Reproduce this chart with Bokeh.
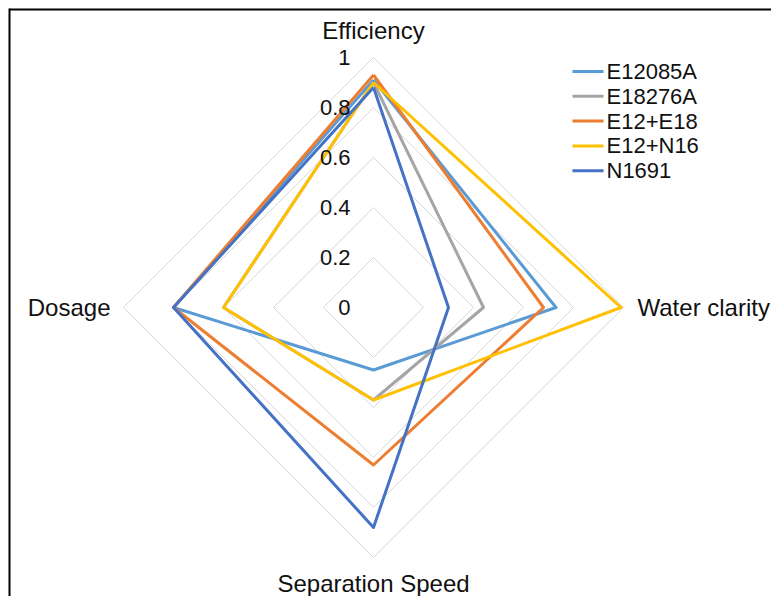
import numpy as np
from bokeh.plotting import figure
from bokeh.models import Range1d
from bokeh.core.properties import value
from bokeh.embed import file_html
from bokeh.resources import INLINE

# ---- data ----
axes_labels = ["Efficiency", "Water clarity", "Separation Speed", "Dosage"]
tick_values = [0, 0.2, 0.4, 0.6, 0.8, 1]
tick_labels = ["0", "0.2", "0.4", "0.6", "0.8", "1"]
series_names = ["E12085A", "E18276A", "E12+E18", "E12+N16", "N1691"]
E12085A = [0.91, 0.73, 0.25, 0.80]
E18276A = [0.90, 0.44, 0.37, 0.60]
E12_E18 = [0.93, 0.68, 0.63, 0.80]
E12_N16 = [0.90, 0.99, 0.37, 0.60]
N1691 = [0.88, 0.30, 0.88, 0.80]
series_values = [E12085A, E18276A, E12_E18, E12_N16, N1691]
colors = ["#5B9BD5", "#A5A5A5", "#ED7D31", "#FFC000", "#4472C4"]

# ---- layout ----
W, H = 771, 596
R = 250.0            # pixels for value 1
CX, CY = 373, 307    # center in figure pixels (from top-left)


def dx(px):  # figure pixel x -> data
    return (px - CX) / R


def dy(py):  # figure pixel y (from top) -> data
    return (CY - py) / R


FONT = value("Liberation Sans")
TXT = "#111111"

p = figure(width=W, height=H, output_backend="svg", toolbar_location=None,
           x_range=Range1d(dx(0), dx(W)), y_range=Range1d(dy(H), dy(0)),
           min_border=0)
p.axis.visible = False
p.grid.visible = False
p.outline_line_color = None
p.background_fill_color = "white"
p.border_fill_color = "white"

angles = np.deg2rad([90, 0, -90, 180])
cosA, sinA = np.cos(angles), np.sin(angles)

# grid rings
for t in tick_values[1:]:
    xs = list(t * cosA) + [t * cosA[0]]
    ys = list(t * sinA) + [t * sinA[0]]
    p.line(xs, ys, line_color="#D9D9D9", line_width=1)

# series
for name, vals, c in zip(series_names, series_values, colors):
    v = np.array(vals)
    xs = list(v * cosA) + [v[0] * cosA[0]]
    ys = list(v * sinA) + [v[0] * sinA[0]]
    p.line(xs, ys, line_color=c, line_width=3, line_join="round")

# tick labels
p.text(x=[dx(CX - 23)] * len(tick_values), y=tick_values, text=tick_labels,
       text_align="right", text_baseline="middle", text_font=FONT,
       text_font_size="22px", text_color=TXT)

# axis labels
lab_x = [0, 1 + 14 / R, 0, -(1 + 13 / R)]
lab_y = [1 + 27 / R, 0, -(1 + 26 / R), 0]
aligns = ["center", "left", "center", "right"]
for lx, ly, t, a in zip(lab_x, lab_y, axes_labels, aligns):
    p.text(x=[lx], y=[ly], text=[t], text_align=a, text_baseline="middle",
           text_font=FONT, text_font_size="24px", text_color=TXT)

# legend (manual)
for i, (name, c) in enumerate(zip(series_names, colors)):
    yy = dy(71 + 24.8 * i)
    p.segment(x0=[dx(572)], y0=[yy], x1=[dx(603)], y1=[yy], line_color=c,
              line_width=3)
    p.text(x=[dx(606)], y=[yy], text=[name], text_align="left",
           text_baseline="middle", text_font=FONT, text_font_size="22px",
           text_color=TXT)

# frame border (top and left edges of the chart box)
p.line([dx(9), dx(W + 5)], [dy(9), dy(9)], line_color="black", line_width=2)
p.line([dx(9), dx(9)], [dy(8), dy(H + 5)], line_color="black", line_width=2)

open("out.html", "w").write(file_html(p, INLINE))
